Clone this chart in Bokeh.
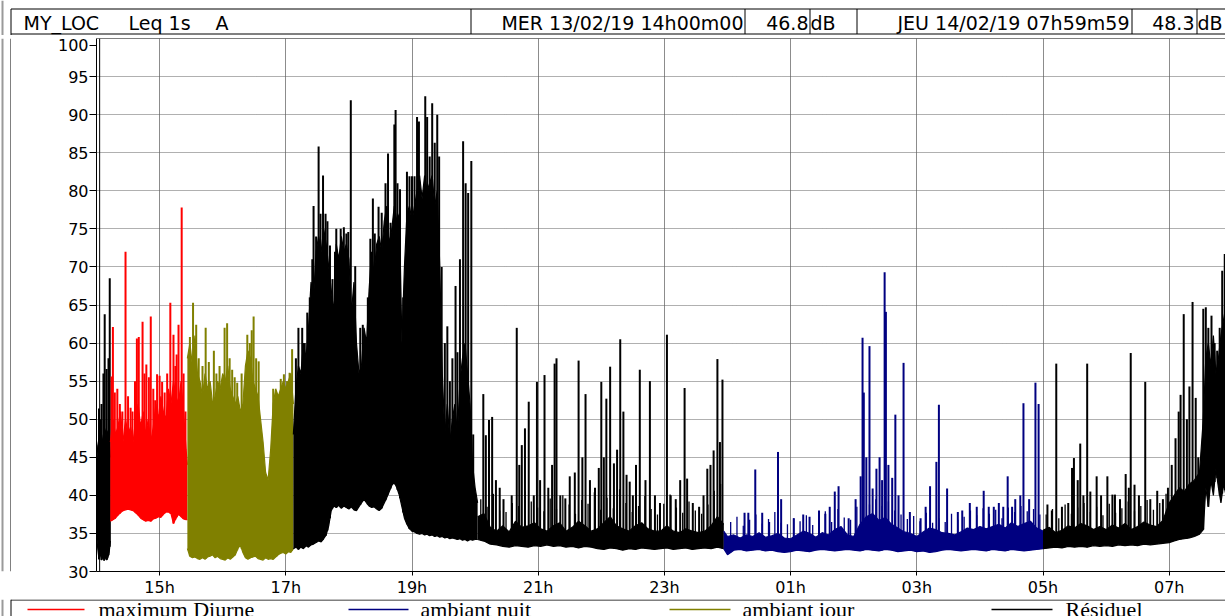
import numpy as np
from bokeh.plotting import figure
from bokeh.layouts import column, row
from bokeh.models import FixedTicker, Span, Range1d
from bokeh.core.properties import value
from bokeh.embed import file_html
from bokeh.resources import INLINE

# ---------------- texts / ticks ----------------
x_ticks = [15, 17, 19, 21, 23, 25, 27, 29, 31]
x_tick_labels = ["15h", "17h", "19h", "21h", "23h", "01h", "03h", "05h", "07h"]
y_ticks = [30, 35, 40, 45, 50, 55, 60, 65, 70, 75, 80, 85, 90, 95, 100]
y_tick_labels = ["30", "35", "40", "45", "50", "55", "60", "65", "70", "75", "80", "85", "90", "95", "100"]

site, metric, weighting = "MY_LOC", "Leq 1s", "A"
start_stamp, start_level = "MER 13/02/19 14h00m00", "46.8"
end_stamp, end_level = "JEU 14/02/19 07h59m59", "48.3"
unit = "dB"

series_names = ["maximum Diurne", "ambiant nuit", "ambiant jour", "Résiduel"]
series_colors = ["#FF0000", "#000080", "#808000", "#000000"]

# ---------------- data (clock hours, dB) ----------------
# Résiduel, start
bk1_t = [14.00, 14.02, 14.04, 14.06, 14.08, 14.10, 14.12, 14.14, 14.16, 14.18, 14.20, 14.22]
bk1_lo = [35.0, 33.0, 31.6, 32.5, 31.5, 32.0, 31.4, 32.0, 31.5, 31.8, 32.5, 34.0]
bk1_hi = [44.0, 46.5, 47.5, 45.0, 48.0, 46.5, 49.0, 48.5, 47.0, 48.5, 47.0, 45.0]
bk1_spk_t = [14.04, 14.06, 14.08, 14.11, 14.13, 14.16, 14.19, 14.21]
bk1_spk_v = [51.4, 50.0, 52.0, 56.0, 63.8, 56.6, 58.0, 68.5]

# maximum Diurne
red_t = [14.22, 14.26, 14.30, 14.34, 14.38, 14.42, 14.46, 14.50, 14.54, 14.58,
         14.62, 14.66, 14.70, 14.74, 14.78, 14.82, 14.86, 14.90, 14.94, 14.98,
         15.02, 15.06, 15.10, 15.14, 15.18, 15.22, 15.26, 15.30, 15.34, 15.38,
         15.42, 15.44]
red_lo = [36.6, 36.8, 37.0, 37.4, 37.7, 38.0, 38.1, 38.2, 38.1, 38.0,
          37.7, 37.4, 37.0, 36.8, 36.6, 36.7, 36.6, 36.9, 37.0, 37.2,
          37.1, 37.5, 37.8, 37.8, 37.6, 36.3, 37.0, 37.5, 37.2, 36.9,
          36.8, 36.8]
red_hi = [47, 50, 48, 49, 51, 47, 50, 48, 49, 47,
          50, 52, 49, 51, 48, 50, 47, 49, 52, 50,
          53, 51, 50, 54, 52, 55, 53, 52, 55, 51,
          46, 44]
red_spk_t = [14.24, 14.26, 14.29, 14.33, 14.37, 14.41, 14.46, 14.50, 14.54, 14.57,
             14.61, 14.64, 14.67, 14.73, 14.76, 14.79, 14.83, 14.86, 14.90, 14.93,
             14.96, 15.00, 15.04, 15.08, 15.12, 15.17, 15.22, 15.25, 15.27, 15.30,
             15.35, 15.38, 15.41]
red_spk_v = [55.6, 62.1, 53.5, 54.0, 52.0, 51.0, 72.0, 53.0, 51.5, 51.0,
             55.0, 60.6, 60.8, 62.8, 56.0, 57.2, 55.5, 63.5, 54.0, 52.5,
             55.9, 55.7, 54.9, 53.5, 56.0, 65.3, 61.1, 57.0, 58.5, 62.4,
             77.8, 56.0, 51.0]

# ambiant jour
ol_t = [15.44, 15.48, 15.52, 15.56, 15.60, 15.64, 15.68, 15.72, 15.76, 15.80,
        15.84, 15.88, 15.92, 15.96, 16.00, 16.04, 16.08, 16.12, 16.16, 16.20,
        16.24, 16.28, 16.32, 16.36, 16.40, 16.44, 16.48, 16.52, 16.56, 16.60,
        16.64, 16.68, 16.72, 16.76, 16.80, 16.84, 16.88, 16.92, 16.96, 17.00,
        17.04, 17.08, 17.12]
ol_lo = [33.0, 32.0, 31.8, 31.9, 31.7, 31.6, 31.8, 31.6, 31.9, 32.0,
         32.2, 31.8, 32.0, 31.7, 31.6, 31.5, 31.8, 31.6, 31.9, 32.2,
         33.0, 33.5, 32.5, 31.8, 31.6, 31.8, 31.9, 32.0, 31.7, 31.6,
         31.5, 31.8, 31.6, 31.7, 31.6, 31.9, 32.2, 32.4, 32.5, 32.3,
         32.6, 32.5, 33.0]
ol_hi = [58, 60, 57, 61, 56, 55, 53, 56, 54, 55,
         52, 53, 55, 54, 56, 55, 57, 54, 53, 52,
         53, 51, 52, 57, 59, 58, 55, 54, 53, 50,
         47, 43, 42, 46, 52, 54, 53, 54, 55, 54,
         55, 56, 52]
ol_spk_t = [15.48, 15.53, 15.58, 15.62, 15.68, 15.73, 15.78, 15.86, 15.90, 15.95,
            16.03, 16.07, 16.11, 16.15, 16.19, 16.23, 16.30, 16.39, 16.43, 16.46,
            16.49, 16.53, 16.57, 16.80, 16.85, 16.92, 16.97, 17.02, 17.06, 17.10]
ol_spk_v = [60.8, 65.3, 62.4, 58.0, 57.0, 62.0, 57.5, 59.0, 56.0, 57.0,
            62.0, 62.6, 58.0, 56.5, 55.5, 54.8, 56.0, 61.1, 60.0, 61.7,
            63.5, 58.0, 57.6, 54.0, 53.5, 55.3, 55.9, 55.0, 56.1, 59.2]

# Résiduel, evening
bk2_t = [17.12, 17.16, 17.20, 17.24, 17.28, 17.32, 17.36, 17.40, 17.44, 17.48,
         17.52, 17.56, 17.60, 17.64, 17.68, 17.72, 17.76, 17.80, 17.84, 17.88,
         17.92, 17.96, 18.00, 18.04, 18.08, 18.12, 18.16, 18.20, 18.24, 18.28,
         18.32, 18.36, 18.40, 18.44, 18.48, 18.52, 18.56, 18.60, 18.64, 18.68,
         18.72, 18.76, 18.80, 18.84, 18.88, 18.92, 18.96, 19.00, 19.04, 19.08,
         19.12, 19.16, 19.20, 19.24, 19.28, 19.32, 19.36, 19.40, 19.44, 19.48,
         19.52, 19.56, 19.60, 19.64, 19.68, 19.72, 19.76, 19.80, 19.84, 19.88,
         19.92, 19.96, 20.00, 20.04]
bk2_lo = [33.0, 33.2, 32.9, 33.2, 33.0, 33.4, 33.2, 33.5, 33.6, 33.8,
          34.0, 33.9, 34.3, 34.8, 36.0, 38.0, 38.6, 38.4, 38.7, 38.3,
          38.6, 38.4, 38.2, 38.5, 38.1, 38.0, 38.5, 39.0, 39.5, 39.0,
          38.6, 38.4, 38.5, 38.2, 38.0, 38.3, 39.0, 39.7, 40.5, 41.3,
          41.7, 41.0, 40.0, 38.5, 37.0, 36.2, 35.6, 35.3, 35.2, 35.0,
          34.9, 35.0, 34.8, 34.9, 34.7, 34.8, 34.6, 34.7, 34.5, 34.6,
          34.4, 34.5, 34.3, 34.4, 34.3, 34.2, 34.3, 34.1, 34.2, 34.0,
          34.2, 34.1, 34.2, 34.2]
bk2_hi = [48, 54, 57, 56, 60, 58, 62, 68, 66, 72,
          74, 72, 75, 73, 70, 67, 64, 73, 71, 74,
          72, 73, 71, 64, 68, 60, 56, 57, 62, 60,
          67, 72, 69, 73, 74, 72, 76, 78, 73, 75,
          78, 76, 77, 60, 70, 77, 78, 76, 78, 80,
          82, 79, 82, 80, 81, 82, 78, 80, 70, 56,
          48, 52, 47, 50, 52, 48, 55, 58, 60, 56,
          52, 44, 41, 39]
bk2_spk_t = [17.16, 17.20, 17.26, 17.30, 17.34, 17.38, 17.42, 17.44, 17.48, 17.52,
             17.55, 17.59, 17.63, 17.66, 17.70, 17.74, 17.78, 17.80, 17.87, 17.92,
             17.96, 17.99, 18.03, 18.06, 18.10, 18.18, 18.22, 18.27, 18.30, 18.34,
             18.38, 18.41, 18.47, 18.52, 18.58, 18.62, 18.66, 18.72, 18.74, 18.77,
             18.81, 18.86, 18.92, 18.96, 19.00, 19.04, 19.08, 19.11, 19.15, 19.21,
             19.24, 19.28, 19.32, 19.36, 19.40, 19.43, 19.47, 19.52, 19.56, 19.60,
             19.64, 19.69, 19.72, 19.76, 19.81, 19.85, 19.89, 19.94, 19.97]
bk2_spk_v = [58.0, 62.0, 62.0, 60.0, 64.0, 66.0, 71.0, 78.0, 74.0, 85.8,
             77.0, 82.0, 77.0, 76.0, 72.8, 68.4, 72.0, 75.0, 75.0, 75.2,
             74.4, 74.6, 91.9, 64.5, 70.1, 62.0, 62.4, 60.7, 66.0, 73.7,
             79.0, 74.4, 77.9, 77.1, 81.0, 84.9, 75.8, 88.7, 90.6, 81.0,
             80.2, 66.0, 82.5, 81.9, 81.9, 81.9, 89.7, 89.1, 66.2, 92.4,
             89.7, 84.5, 91.5, 86.3, 90.0, 84.5, 70.0, 60.0, 62.2, 55.0,
             58.0, 67.5, 58.8, 71.0, 86.5, 81.0, 79.7, 83.9, 48.0]

# Résiduel, late evening
bk3_t = [20.04, 20.14, 20.24, 20.34, 20.44, 20.54, 20.64, 20.74, 20.84, 20.94,
         21.04, 21.14, 21.24, 21.34, 21.44, 21.54, 21.64, 21.74, 21.84, 21.94,
         22.04, 22.14, 22.24, 22.34, 22.44, 22.54, 22.64, 22.74, 22.84, 22.94,
         23.04, 23.14, 23.24, 23.34, 23.44, 23.54, 23.64, 23.74, 23.84, 23.94]
bk3_lo = [34.2, 34.0, 33.6, 33.5, 33.3, 33.2, 33.4, 33.3, 33.2, 33.4,
          33.3, 33.5, 33.3, 33.4, 33.2, 33.3, 33.1, 33.3, 33.2, 33.0,
          32.9, 33.1, 33.0, 32.8, 33.0, 32.9, 33.1, 33.0, 32.9, 33.0,
          33.1, 32.9, 33.0, 33.1, 32.9, 33.0, 33.1, 33.0, 33.2, 33.0]
bk3_hi = [37.2, 37.6, 35.8, 35.3, 36.0, 35.2, 36.6, 35.8, 36.0, 36.4,
          35.6, 35.3, 36.0, 36.4, 35.3, 35.8, 36.6, 36.0, 35.3, 35.6,
          36.4, 37.2, 36.0, 35.6, 35.3, 36.0, 36.4, 35.6, 35.3, 35.3,
          36.0, 35.3, 35.1, 35.6, 35.3, 35.1, 35.3, 36.0, 37.2, 36.2]
bk3_spk_t = [20.13, 20.17, 20.22, 20.27, 20.33, 20.39, 20.45, 20.58, 20.66, 20.70,
             20.74, 20.79, 20.85, 20.93, 20.98, 21.03, 21.10, 21.16, 21.22, 21.26,
             21.29, 21.35, 21.43, 21.50, 21.58, 21.64, 21.70, 21.75, 21.82, 21.90,
             21.96, 22.00, 22.04, 22.08, 22.14, 22.20, 22.25, 22.30, 22.35, 22.40,
             22.45, 22.50, 22.55, 22.61, 22.70, 22.77, 22.85, 22.93, 23.04, 23.10,
             23.18, 23.25, 23.32, 23.36, 23.45, 23.55, 23.62, 23.68, 23.73, 23.78,
             23.84, 23.88, 23.92]
bk3_spk_v = [53.3, 47.9, 49.9, 50.3, 42.0, 41.0, 39.5, 40.0, 62.0, 44.0,
             46.6, 48.8, 52.3, 40.0, 54.9, 42.0, 55.8, 41.0, 44.0, 57.3,
             58.0, 40.0, 39.6, 42.5, 43.0, 57.7, 45.0, 53.3, 42.0, 41.0,
             43.6, 54.9, 45.0, 52.7, 56.9, 44.2, 46.0, 60.5, 51.0, 42.7,
             41.8, 40.0, 44.0, 56.5, 42.0, 55.0, 40.0, 39.0, 61.1, 40.0,
             39.5, 42.0, 54.1, 42.2, 39.0, 38.5, 40.0, 43.5, 44.0, 45.9,
             57.9, 47.0, 55.2]
bk3_minor_t = [20.09, 20.19, 20.29, 20.39, 20.49, 20.59, 20.69, 20.79, 20.89, 20.99,
               21.09, 21.19, 21.29, 21.39, 21.49, 21.59, 21.69, 21.79, 21.89, 21.99,
               22.09, 22.19, 22.29, 22.39, 22.49, 22.59, 22.69, 22.79, 22.89, 22.99,
               23.09, 23.19, 23.29, 23.39, 23.49, 23.59, 23.69, 23.79, 23.89]
bk3_minor_v = [39.5, 38.5, 40.2, 38.0, 37.8, 39.0, 38.6, 40.5, 39.2, 38.4,
               37.9, 39.6, 38.2, 40.0, 38.8, 37.6, 39.4, 38.9, 40.4, 38.1,
               39.7, 38.3, 40.8, 39.0, 37.8, 38.6, 39.9, 38.2, 37.5, 38.9,
               40.1, 38.4, 37.7, 39.2, 38.0, 37.6, 38.8, 40.6, 41.5]

# ambiant nuit
bl_t = [23.94, 24.0, 24.1, 24.2, 24.3, 24.4, 24.5, 24.6, 24.7, 24.8,
        24.9, 25.0, 25.1, 25.2, 25.3, 25.4, 25.5, 25.6, 25.7, 25.8,
        25.9, 26.0, 26.1, 26.2, 26.3, 26.4, 26.5, 26.6, 26.7, 26.8,
        26.9, 27.0, 27.1, 27.2, 27.3, 27.4, 27.5, 27.6, 27.7, 27.8,
        27.9, 28.0, 28.1, 28.2, 28.3, 28.4, 28.5, 28.6, 28.7, 28.8,
        28.9, 29.0]
bl_lo = [33.0, 32.2, 32.8, 32.9, 32.7, 32.8, 32.9, 32.7, 32.8, 32.6,
         32.5, 32.6, 32.8, 32.7, 32.6, 32.8, 32.9, 32.8, 32.7, 32.8,
         32.9, 32.8, 32.7, 32.9, 32.8, 32.7, 32.9, 32.8, 32.6, 32.7,
         32.8, 32.6, 32.7, 32.5, 32.6, 32.8, 32.9, 32.8, 32.7, 32.8,
         32.9, 32.8, 32.7, 32.9, 32.8, 32.7, 32.9, 32.8, 32.7, 32.8,
         32.9, 33.0]
bl_hi = [35.3, 34.6, 34.8, 34.4, 34.8, 34.6, 35.1, 34.5, 34.7, 35.0,
         34.4, 34.3, 34.8, 35.3, 35.0, 34.5, 35.1, 34.8, 35.5, 35.9,
         34.8, 34.6, 36.2, 37.2, 37.6, 36.7, 37.1, 36.2, 35.7, 35.2,
         35.0, 34.6, 35.2, 35.7, 35.5, 35.1, 35.0, 34.8, 35.2, 35.7,
         35.5, 35.9, 35.6, 35.9, 36.2, 35.7, 36.4, 35.9, 36.3, 36.6,
         35.7, 35.3]
bl_spk_t = [24.27, 24.33, 24.44, 24.55, 24.66, 24.80, 24.85, 25.05, 25.20, 25.30,
            25.45, 25.55, 25.62, 25.70, 25.76, 25.92, 26.03, 26.11, 26.14, 26.16,
            26.20, 26.25, 26.30, 26.36, 26.41, 26.45, 26.49, 26.51, 26.55, 26.61,
            26.66, 26.71, 26.79, 26.89, 27.06, 27.14, 27.21, 27.31, 27.35, 27.48,
            27.65, 27.72, 27.84, 27.95, 28.06, 28.14, 28.22, 28.30, 28.37, 28.44,
            28.51, 28.56, 28.64, 28.69, 28.78, 28.88, 28.93]
bl_spk_v = [37.7, 37.7, 43.4, 37.7, 36.5, 45.7, 39.5, 37.0, 37.5, 37.2,
            38.0, 37.6, 38.5, 40.5, 41.2, 37.0, 39.5, 42.5, 60.7, 53.5,
            45.0, 59.6, 40.9, 43.5, 45.0, 42.0, 69.3, 64.1, 44.0, 42.3,
            50.6, 40.0, 57.4, 37.8, 37.0, 38.5, 41.2, 44.4, 51.9, 40.9,
            37.8, 38.0, 39.0, 38.5, 40.6, 38.5, 38.5, 39.0, 38.5, 42.5,
            38.5, 39.5, 40.0, 52.1, 39.5, 54.8, 52.0]
bl_minor_t = [24.05, 24.15, 24.25, 24.35, 24.45, 24.55, 24.65, 24.75, 24.85, 24.95,
              25.05, 25.15, 25.25, 25.35, 25.45, 25.55, 25.65, 25.75, 25.85, 25.95,
              26.05, 26.15, 26.25, 26.35, 26.45, 26.55, 26.65, 26.75, 26.85, 26.95,
              27.05, 27.15, 27.25, 27.35, 27.45, 27.55, 27.65, 27.75, 27.85, 27.95,
              28.05, 28.15, 28.25, 28.35, 28.45, 28.55, 28.65, 28.75, 28.85, 28.95]
bl_minor_v = [36.5, 37.2, 36.0, 36.8, 37.5, 36.3, 36.9, 37.8, 36.4, 36.2,
              37.0, 36.6, 37.4, 36.1, 36.7, 37.9, 36.5, 38.2, 37.1, 36.8,
              38.5, 39.0, 38.8, 39.5, 38.6, 39.2, 38.0, 37.5, 36.9, 37.3,
              36.6, 37.7, 36.4, 37.0, 36.5, 37.6, 36.8, 37.2, 38.0, 37.4,
              38.3, 37.6, 38.1, 37.0, 38.4, 37.8, 38.6, 37.9, 38.2, 37.5]

# Résiduel, morning
bk4_t = [29.00, 29.10, 29.20, 29.30, 29.40, 29.50, 29.60, 29.70, 29.80, 29.90,
         30.00, 30.10, 30.20, 30.30, 30.40, 30.50, 30.60, 30.70, 30.80, 30.90,
         31.00, 31.08, 31.16, 31.24, 31.32, 31.40, 31.48, 31.54, 31.58, 31.62,
         31.66, 31.70, 31.74, 31.78, 31.82, 31.86, 31.90]
bk4_lo = [33.0, 33.1, 33.2, 33.1, 33.3, 33.2, 33.3, 33.2, 33.4, 33.3,
          33.4, 33.3, 33.5, 33.4, 33.5, 33.4, 33.6, 33.5, 33.6, 33.7,
          33.8, 34.0, 34.2, 34.3, 34.4, 34.6, 34.9, 35.5, 41.0, 38.5,
          42.0, 40.0, 43.5, 41.0, 39.0, 41.5, 40.0]
bk4_hi = [35.4, 35.8, 35.1, 35.4, 36.0, 35.7, 36.3, 36.0, 35.5, 35.9,
          35.5, 36.1, 35.7, 36.3, 35.5, 35.9, 36.5, 36.1, 35.9, 36.7,
          39.0, 40.0, 41.0, 40.5, 41.5, 42.0, 43.0, 50.0, 58.0, 60.0,
          57.0, 61.0, 56.0, 58.0, 61.0, 63.0, 65.0]
bk4_spk_t = [29.07, 29.14, 29.21, 29.30, 29.40, 29.46, 29.49, 29.55, 29.59, 29.64,
             29.70, 29.75, 29.85, 29.92, 30.02, 30.10, 30.14, 30.22, 30.31, 30.36,
             30.39, 30.45, 30.52, 30.62, 30.70, 30.81, 30.90, 30.98, 31.04, 31.10,
             31.15, 31.18, 31.23, 31.28, 31.32, 31.37, 31.42, 31.46, 31.54, 31.58,
             31.62, 31.67, 31.72, 31.76, 31.80, 31.84, 31.88]
bk4_spk_v = [38.8, 38.0, 57.3, 38.5, 39.0, 43.6, 44.9, 42.0, 46.8, 40.0,
             57.3, 40.5, 42.5, 40.0, 42.5, 40.1, 40.1, 39.5, 42.8, 41.0,
             58.7, 41.4, 40.0, 54.9, 39.5, 40.6, 39.5, 41.0, 44.0, 47.5,
             51.0, 53.2, 63.8, 50.0, 54.3, 65.4, 52.8, 45.0, 64.5, 64.7,
             62.0, 63.6, 60.0, 59.0, 62.0, 69.5, 71.7]
bk4_minor_t = [29.05, 29.15, 29.25, 29.35, 29.45, 29.55, 29.65, 29.75, 29.85, 29.95,
               30.05, 30.15, 30.25, 30.35, 30.45, 30.55, 30.65, 30.75, 30.85, 30.95]
bk4_minor_v = [37.5, 38.2, 37.0, 38.8, 37.6, 38.4, 39.0, 37.8, 38.5, 37.4,
               38.9, 37.7, 38.3, 39.2, 37.9, 38.6, 39.4, 38.1, 39.0, 40.2]

# ---------------- layout sizes ----------------
PAGE_W = 1225
HEAD_H = 35
MID_H = 564
LEG_H = 17
STRIP_W = 11
BORDER_GRAY = "#9a9a9a"
AXFONT = "DejaVu Sans"


def bare(width, height, x0, x1, y0, y1):
    f = figure(width=width, height=height, output_backend="svg", toolbar_location=None,
               x_range=Range1d(x0, x1), y_range=Range1d(y0, y1),
               x_axis_type=None, y_axis_type=None, min_border=0)
    f.outline_line_color = None
    f.background_fill_color = "white"
    f.border_fill_color = "white"
    return f


# ---------------- header band ----------------
hd = bare(PAGE_W, HEAD_H, 0, PAGE_W, HEAD_H, 0)
hd.segment(x0=[2], y0=[0], x1=[2], y1=[HEAD_H], line_color=BORDER_GRAY, line_width=2)
hd.segment(x0=[10.5], y0=[8.5], x1=[10.5], y1=[HEAD_H], line_color="black", line_width=1)
hd.segment(x0=[10.5, 10.5], y0=[8.5, 33.5], x1=[PAGE_W, PAGE_W], y1=[8.5, 33.5],
           line_color="black", line_width=1)
hd.segment(x0=[470.5, 744.5, 809.5, 856.5, 1131.5, 1196.5], y0=[8.5] * 6,
           x1=[470.5, 744.5, 809.5, 856.5, 1131.5, 1196.5], y1=[33.5] * 6,
           line_color="black", line_width=1)
HF = value("19px")
HY = 22.5
hd.text(x=[23, 128, 215, 810, 1197], y=[HY] * 5,
        text=[site, metric, weighting, unit, unit],
        text_font=value(AXFONT), text_font_size=HF, text_align="left",
        text_baseline="middle", text_color="black")
hd.text(x=[743, 808, 1129, 1194], y=[HY] * 4,
        text=[start_stamp, start_level, end_stamp, end_level],
        text_font=value(AXFONT), text_font_size=HF, text_align="right",
        text_baseline="middle", text_color="black")

# ---------------- left strip ----------------
st = bare(STRIP_W, MID_H, 0, STRIP_W, 0, 1)
st.segment(x0=[2], y0=[0], x1=[2], y1=[1], line_color=BORDER_GRAY, line_width=2)
st.segment(x0=[10.5], y0=[0], x1=[10.5], y1=[1], line_color="black", line_width=1)

# ---------------- main plot ----------------
p = figure(width=PAGE_W - STRIP_W, height=MID_H, output_backend="svg", toolbar_location=None,
           x_range=Range1d(14.0, 31.892), y_range=Range1d(30, 100),
           min_border_left=85, min_border_right=0, min_border_top=3, min_border_bottom=25)
p.outline_line_color = None
p.background_fill_color = "white"
p.border_fill_color = "white"

p.xaxis.ticker = FixedTicker(ticks=x_ticks)
p.xaxis.major_label_overrides = {t: l for t, l in zip(x_ticks, x_tick_labels)}
p.xaxis.major_tick_out = 4
p.xaxis.major_tick_in = 0
p.xaxis.minor_tick_line_color = None
p.xaxis.major_label_standoff = 2
p.xaxis.major_label_text_font = AXFONT
p.xaxis.major_label_text_font_size = "16px"
p.xaxis.major_label_text_color = "black"
p.xaxis.axis_line_color = "black"

# the top label of the original sits just under the header band
y_label_pos = y_ticks[:-1] + [99.1]
p.yaxis.ticker = FixedTicker(ticks=y_label_pos)
p.yaxis.major_label_overrides = {t: l for t, l in zip(y_label_pos, y_tick_labels)}
p.yaxis.major_tick_out = 7
p.yaxis.major_tick_in = 0
p.yaxis.minor_tick_line_color = None
p.yaxis.major_label_standoff = 1
p.yaxis.major_label_text_font = AXFONT
p.yaxis.major_label_text_font_size = "16px"
p.yaxis.major_label_text_color = "black"
p.yaxis.axis_line_color = "black"

p.xgrid.ticker = FixedTicker(ticks=x_ticks)
p.xgrid.grid_line_color = "#8c8c8c"
p.xgrid.grid_line_width = 1
p.ygrid.ticker = FixedTicker(ticks=y_ticks)
p.ygrid.grid_line_color = "#606060"
p.ygrid.grid_line_dash = "1 1"
p.ygrid.grid_line_width = 1


def section(t, lo, hi, st_, sv, color):
    p.varea(x=t, y1=lo, y2=hi, fill_color=color)
    p.line(t, hi, line_color=color, line_width=1.2)
    p.line(t, lo, line_color=color, line_width=1.2)
    base = np.interp(st_, t, lo)
    p.segment(x0=st_, y0=base, x1=st_, y1=sv, line_color=color, line_width=2.0)


def minor(t_sec, lo_sec, mt, mv, color):
    base = np.interp(mt, t_sec, lo_sec)
    p.segment(x0=mt, y0=base, x1=mt, y1=mv, line_color=color, line_width=1.3)


RED, NAVY, OLIVE, BLACK = series_colors
section(bk1_t, bk1_lo, bk1_hi, bk1_spk_t, bk1_spk_v, BLACK)
section(red_t, red_lo, red_hi, red_spk_t, red_spk_v, RED)
section(ol_t, ol_lo, ol_hi, ol_spk_t, ol_spk_v, OLIVE)
section(bk2_t, bk2_lo, bk2_hi, bk2_spk_t, bk2_spk_v, BLACK)
section(bk3_t, bk3_lo, bk3_hi, bk3_spk_t, bk3_spk_v, BLACK)
minor(bk3_t, bk3_lo, bk3_minor_t, bk3_minor_v, BLACK)
section(bl_t, bl_lo, bl_hi, bl_spk_t, bl_spk_v, NAVY)
minor(bl_t, bl_lo, bl_minor_t, bl_minor_v, NAVY)
section(bk4_t, bk4_lo, bk4_hi, bk4_spk_t, bk4_spk_v, BLACK)
minor(bk4_t, bk4_lo, bk4_minor_t, bk4_minor_v, BLACK)

# frame lines: top edge and the doubled left edge
p.add_layout(Span(location=100, dimension="width", line_color="black", line_width=1))
p.add_layout(Span(location=14.05, dimension="height", line_color="black", line_width=1))

# ---------------- legend band ----------------
LEG_TOP = 616 - LEG_H
lg = bare(PAGE_W, LEG_H, 0, PAGE_W, 616, LEG_TOP)
lg.segment(x0=[2], y0=[LEG_TOP], x1=[2], y1=[616], line_color=BORDER_GRAY, line_width=2)
lg.segment(x0=[10.5], y0=[LEG_TOP], x1=[10.5], y1=[616], line_color="black", line_width=1)
lg.segment(x0=[10.5], y0=[LEG_TOP + 0.5], x1=[PAGE_W], y1=[LEG_TOP + 0.5],
           line_color="black", line_width=1)
sw_x0 = [27, 348, 669, 991]
sw_x1 = [84, 408, 730, 1052]
txt_x = [98, 420, 742, 1065]
lg.segment(x0=sw_x0, y0=[609] * 4, x1=sw_x1, y1=[609] * 4,
           line_color=series_colors, line_width=1.5)
lg.text(x=txt_x, y=[609] * 4, text=series_names,
        text_font=value("Liberation Serif"), text_font_size=value("22px"),
        text_align="left", text_baseline="middle", text_color="black")

layout = column(hd, row(st, p), lg)
open("out.html", "w").write(file_html(layout, INLINE))
